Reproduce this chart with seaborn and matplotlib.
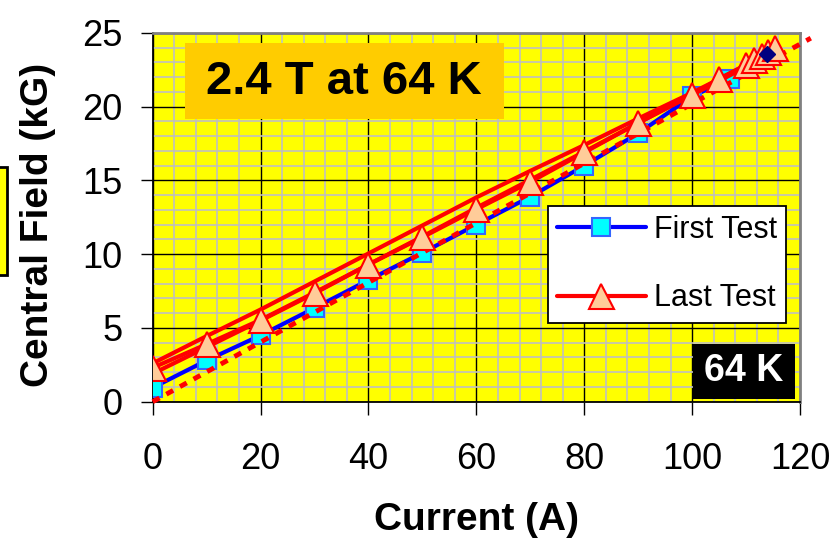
import numpy as np
import pandas as pd
import matplotlib
matplotlib.use("Agg")
import matplotlib.pyplot as plt
import seaborn as sns
from matplotlib.patches import Rectangle
from matplotlib.ticker import MultipleLocator

# data
current_first = [0, 10, 20, 30, 40, 50, 60, 70, 80, 90, 100, 107]
field_first = [0.95, 2.8, 4.5, 6.35, 8.25, 10.1, 12.0, 13.9, 16.0, 18.2, 20.7, 21.9]

current_last = [0, 10, 20, 30, 40, 50, 60, 70, 80, 90, 100, 105, 110, 111.5, 113, 114, 115.3]
field_last = [2.3, 3.9, 5.55, 7.4, 9.3, 11.15, 13.05, 14.9, 16.9, 18.9, 20.8, 21.9,
              22.85, 23.15, 23.45, 23.7, 23.95]

current_mid = [0, 10, 20, 30, 40, 50, 60, 70, 80, 90, 100, 110]
field_mid_a = [2.6, 4.45, 6.25, 8.15, 10.05, 11.95, 13.85, 15.65, 17.4, 19.2, 20.95, 22.8]
field_mid_b = [1.9, 3.7, 5.5, 7.35, 9.3, 11.2, 13.15, 15.05, 16.95, 18.9, 20.8, 22.7]

ref_current = [0, 122]
ref_field = [0, 24.65]

peak_current = [113.9]
peak_field = [23.57]

xticks = [0, 20, 40, 60, 80, 100, 120]
yticks = [0, 5, 10, 15, 20, 25]

sns.set_style("white")
plt.rcParams['font.family'] = ['Liberation Sans', 'DejaVu Sans']
plt.rcParams['text.color'] = 'black'
plt.rcParams['xtick.color'] = 'black'
plt.rcParams['ytick.color'] = 'black'
plt.rcParams['axes.labelcolor'] = 'black'

fig = plt.figure(figsize=(8.35, 5.4), dpi=100)
ax = fig.add_axes([0.1829, 0.2561, 0.7752, 0.6828])
ax.set_facecolor('#FFFF00')

df_first = pd.DataFrame({'I': current_first, 'B': field_first})
df_last = pd.DataFrame({'I': current_last, 'B': field_last})
df_mid_a = pd.DataFrame({'I': current_mid, 'B': field_mid_a})
df_mid_b = pd.DataFrame({'I': current_mid, 'B': field_mid_b})
df_ref = pd.DataFrame({'I': ref_current, 'B': ref_field})

sns.lineplot(data=df_first, x='I', y='B', ax=ax, color='#0000FF', lw=3,
             marker='s', markersize=13, markerfacecolor='#00FFFF',
             markeredgecolor='#3366FF', markeredgewidth=1.5, label='First Test', zorder=3)
sns.lineplot(data=df_ref, x='I', y='B', ax=ax, color='#FF0000', lw=3.5,
             linestyle=(0, (1.6, 1.6)), label='_nolegend_', zorder=4, clip_on=False)
sns.lineplot(data=df_mid_a, x='I', y='B', ax=ax, color='#FF0000', lw=3,
             label='_nolegend_', zorder=5)
sns.lineplot(data=df_mid_b, x='I', y='B', ax=ax, color='#FF0000', lw=3,
             label='_nolegend_', zorder=5)
sns.lineplot(data=df_last, x='I', y='B', ax=ax, color='#FF0000', lw=3,
             marker='^', markersize=18, markerfacecolor='#FFCC99',
             markeredgecolor='#FF0000', markeredgewidth=1.5, label='Last Test', zorder=6)
ax.plot(peak_current, peak_field, marker='D', markersize=8, color='#000080',
        linestyle='none', zorder=7)

ax.set_xlim(0, 120)
ax.set_ylim(0, 25)
ax.set_xticks(xticks)
ax.set_yticks(yticks)
ax.xaxis.set_minor_locator(MultipleLocator(4))
ax.yaxis.set_minor_locator(MultipleLocator(1))
ax.grid(which='minor', color='#C0C0C0', lw=1.2)
ax.grid(which='major', color='black', lw=1.0)
ax.set_axisbelow(True)

ax.tick_params(axis='both', which='major', labelsize=26, length=9, width=1,
               color='black', labelcolor='black', direction='out')
ax.tick_params(axis='x', which='major', pad=20, bottom=True)
ax.tick_params(axis='y', which='major', pad=13, left=True)
ax.tick_params(which='minor', length=0)

for side in ['left', 'bottom']:
    ax.spines[side].set_color('black')
    ax.spines[side].set_linewidth(1.3)
for side in ['top', 'right']:
    ax.spines[side].set_color('#808080')
    ax.spines[side].set_linewidth(2)

ax.set_xlabel('Current (A)', fontsize=28, fontweight='bold', color='black')
ax.set_ylabel('Central Field (kG)', fontsize=28, fontweight='bold', color='black')
ax.xaxis.set_label_coords(0.5, -0.272)
ax.yaxis.set_label_coords(-0.15, 0.48)

leg = ax.legend(loc='upper left', bbox_to_anchor=(0.6107, 0.5308), borderaxespad=0,
                fontsize=22, handlelength=2.9, handletextpad=0.26, labelspacing=1.25,
                borderpad=0.3, fancybox=False, framealpha=1, edgecolor='black',
                facecolor='white')
leg.get_frame().set_linewidth(1.3)
leg.set_zorder(10)

# annotation boxes
ax.add_patch(Rectangle((0.0499, 0.7667), 0.4928, 0.2062, transform=ax.transAxes,
                       facecolor='#FFCC00', edgecolor='none', zorder=8))
ax.text(0.2954, 0.868, '2.4 T at 64 K', transform=ax.transAxes, fontsize=34,
        fontweight='bold', ha='center', va='center', zorder=9)
ax.add_patch(Rectangle((0.835, 0.0073), 0.157, 0.1492, transform=ax.transAxes,
                       facecolor='black', edgecolor='none', zorder=8))
ax.text(0.9135, 0.082, '64 K', transform=ax.transAxes, fontsize=27, color='white',
        fontweight='bold', ha='center', va='center', zorder=9)

# partial box cut at the left edge of the figure
fig.patches.append(Rectangle((-0.01, 0.4907), 0.0184, 0.2, transform=fig.transFigure,
                             facecolor='#FFFF00', edgecolor='black', lw=2, figure=fig))

fig.savefig('out.png', dpi=100)
